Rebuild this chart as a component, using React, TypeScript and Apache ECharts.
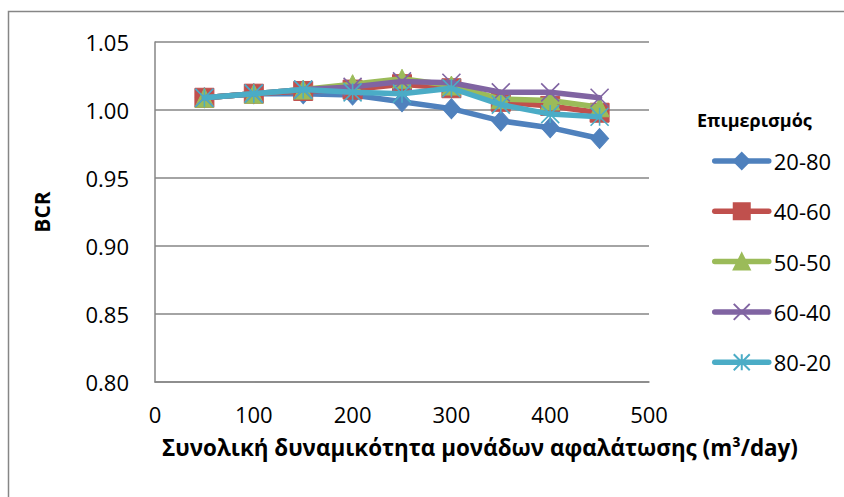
import React, { useEffect, useRef } from "react";
import * as echarts from "echarts";

const xValues = [50, 100, 150, 200, 250, 300, 350, 400, 450];
const seriesNames = ["20-80", "40-60", "50-50", "60-40", "80-20"];
const s2080 = [1.009, 1.012, 1.012, 1.011, 1.006, 1.001, 0.992, 0.987, 0.979];
const s4060 = [1.009, 1.012, 1.014, 1.015, 1.019, 1.016, 1.006, 1.003, 0.998];
const s5050 = [1.009, 1.012, 1.015, 1.019, 1.023, 1.018, 1.008, 1.007, 1.002];
const s6040 = [1.009, 1.012, 1.015, 1.017, 1.021, 1.020, 1.013, 1.013, 1.009];
const s8020 = [1.009, 1.012, 1.015, 1.013, 1.012, 1.016, 1.004, 0.997, 0.995];
const seriesValues = [s2080, s4060, s5050, s6040, s8020];
const colors = ["#4F81BD", "#C0504D", "#9BBB59", "#8064A2", "#4BACC6"];
const legendTitle = "Επιμερισμός";
const xTitle = "Συνολική δυναμικότητα μονάδων αφαλάτωσης (m³/day)";
const yTitle = "BCR";

const FONT = "'Open Sans', sans-serif";

const symbols = [
  "diamond",
  "rect",
  "triangle",
  "path://M0 0 L10 10 M10 0 L0 10",
  "path://M0 0 L10 10 M10 0 L0 10 M5 0 L5 10",
];
const symbolSizes: any[] = [[18, 20], 19, 19, 18, 18];

export default function App() {
  const ref = useRef<HTMLDivElement>(null);
  useEffect(() => {
    if (!ref.current) return;
    const chart = echarts.init(ref.current, null, { renderer: "svg" });
    const series = seriesNames.map((name, i) => {
      const isStroke = i >= 3;
      return {
        name,
        type: "line",
        data: xValues.map((x, j) => [x, seriesValues[i][j]]),
        symbol: symbols[i],
        symbolSize: symbolSizes[i],
        lineStyle: { color: colors[i], width: 5.5, cap: "round", join: "round" },
        itemStyle: isStroke
          ? { color: "rgba(0,0,0,0)", borderColor: colors[i], borderWidth: 1.6 }
          : { color: colors[i], borderColor: colors[i], borderWidth: 1 },
        z: 2 + i,
      };
    });
    chart.setOption({
      animation: false,
      backgroundColor: "#ffffff",
      grid: { left: 155, top: 42, width: 494, height: 340 },
      xAxis: {
        type: "value",
        min: 0,
        max: 500,
        interval: 100,
        axisLine: { show: true, lineStyle: { color: "#868686", width: 1.5 } },
        axisTick: { show: false },
        splitLine: { show: false },
        axisLabel: { color: "#000", fontSize: 22, fontFamily: FONT, margin: 21 },
      },
      yAxis: {
        type: "value",
        min: 0.8,
        max: 1.05,
        interval: 0.05,
        axisLine: { show: true, lineStyle: { color: "#868686", width: 1.5 } },
        axisTick: { show: false },
        splitLine: { show: true, lineStyle: { color: "#868686", width: 1.5 } },
        axisLabel: {
          color: "#000",
          fontSize: 22,
          fontFamily: FONT,
          margin: 26,
          formatter: (v: number) => v.toFixed(2),
        },
      },
      legend: {
        orient: "vertical",
        left: 707,
        top: 145,
        itemWidth: 54,
        itemHeight: 20,
        itemGap: 28.3,
        data: seriesNames,
        lineStyle: { width: 5.5, cap: "round" },
        textStyle: { color: "#000", fontSize: 22, fontFamily: FONT, padding: [0, 0, 0, 0] },
      },
      graphic: [
        {
          type: "rect",
          shape: { x: 8.5, y: 11.5, width: 900, height: 600 },
          style: { fill: "none", stroke: "#868686", lineWidth: 1.5 },
          silent: true,
        },
        {
          type: "text",
          x: 480,
          y: 447,
          style: {
            text: xTitle,
            fill: "#000",
            font: `bold 22.4px ${FONT}`,
            textAlign: "center",
            textVerticalAlign: "middle",
          },
        },
        {
          type: "text",
          x: 42,
          y: 212,
          rotation: Math.PI / 2,
          style: {
            text: yTitle,
            fill: "#000",
            font: `bold 21px ${FONT}`,
            textAlign: "center",
            textVerticalAlign: "middle",
          },
        },
        {
          type: "text",
          x: 697,
          y: 120,
          style: {
            text: legendTitle,
            fill: "#000",
            font: `bold 18px ${FONT}`,
            textAlign: "left",
            textVerticalAlign: "middle",
          },
        },
      ],
      series,
    });
    return () => chart.dispose();
  }, []);
  return (
    <div
      ref={ref}
      style={{ position: "absolute", left: 0, top: 0, width: 844, height: 497 }}
    />
  );
}
